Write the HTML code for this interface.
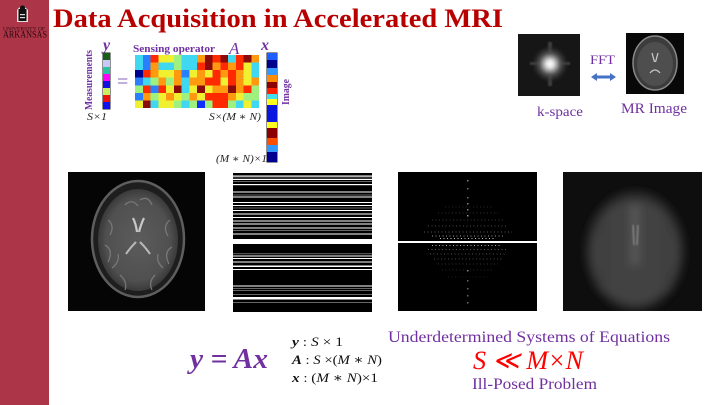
<!DOCTYPE html>
<html><head><meta charset="utf-8"><style>
html,body{margin:0;padding:0;background:#fff;}
svg{display:block;}
text{font-family:"Liberation Serif","DejaVu Serif",serif;}
</style></head><body>
<svg width="720" height="405" viewBox="0 0 720 405" xmlns="http://www.w3.org/2000/svg">
<defs>
<filter id="bl4" x="-30%" y="-30%" width="160%" height="160%"><feGaussianBlur stdDeviation="4"/></filter>
<filter id="bl1" x="-30%" y="-30%" width="160%" height="160%"><feGaussianBlur stdDeviation="0.8"/></filter>
<clipPath id="c4"><rect x="563" y="172" width="139" height="139"/></clipPath>
<clipPath id="ck"><rect x="518" y="34" width="62" height="62"/></clipPath>
<radialGradient id="kglow" cx="0.5" cy="0.5" r="0.5">
<stop offset="0" stop-color="#fff"/><stop offset="0.2" stop-color="#ddd"/><stop offset="0.55" stop-color="#555"/><stop offset="1" stop-color="#222" stop-opacity="0"/>
</radialGradient>
<radialGradient id="brainG" cx="0.5" cy="0.5" r="0.5">
<stop offset="0" stop-color="#5c5c5c"/><stop offset="0.8" stop-color="#505050"/><stop offset="1" stop-color="#3a3a3a"/>
</radialGradient>
</defs>
<rect width="720" height="405" fill="#fff"/>
<!-- sidebar -->
<rect x="0" y="0" width="49" height="405" fill="#ad3548"/>
<!-- logo -->
<g>
<path d="M17 22 L17 10 Q22 3 28 10 L28 22 Z" fill="#e8e0e0"/>
<rect x="18.5" y="9" width="8" height="12" fill="#111"/>
<circle cx="22.5" cy="8" r="2.6" fill="#111"/>
<rect x="20" y="14" width="5" height="1.2" fill="#ddd"/>
<rect x="20" y="17" width="5" height="1.2" fill="#ddd"/>
<text x="3" y="30.5" font-size="5" fill="#3a0a12" textLength="42" lengthAdjust="spacingAndGlyphs">UNIVERSITY OF</text>
<text x="3" y="37.5" font-size="9" fill="#2a080e" textLength="44" lengthAdjust="spacingAndGlyphs">ARKANSAS</text>
</g>
<!-- title -->
<text x="53" y="27" font-size="26" font-weight="bold" fill="#b80000" textLength="450" lengthAdjust="spacingAndGlyphs">Data Acquisition in Accelerated MRI</text>

<!-- matrix figure -->
<text x="103" y="50" font-size="16" font-weight="bold" font-style="italic" fill="#7030a0">y</text>
<text transform="translate(92,110) rotate(-90)" font-size="10" font-weight="bold" fill="#7030a0" textLength="60" lengthAdjust="spacingAndGlyphs">Measurements</text>
<g>
<rect x="102.5" y="52.5" width="8" height="57" fill="#222"/>
<rect x="103" y="53" width="7" height="7" fill="#1a5c1a"/>
<rect x="103" y="60" width="7" height="7" fill="#c8c8f8"/>
<rect x="103" y="67" width="7" height="7" fill="#2cbfa0"/>
<rect x="103" y="74" width="7" height="7" fill="#ff00ff"/>
<rect x="103" y="81" width="7" height="7" fill="#1010e0"/>
<rect x="103" y="88" width="7" height="7" fill="#c8f060"/>
<rect x="103" y="95" width="7" height="7" fill="#ee1010"/>
<rect x="103" y="102" width="7" height="7" fill="#1010f0"/>
</g>
<text x="87" y="120" font-size="10" font-style="italic" fill="#222" textLength="20" lengthAdjust="spacingAndGlyphs">S×1</text>
<text x="117" y="88" font-size="20" fill="#8060b8">=</text>
<text x="133" y="52" font-size="11" font-weight="bold" fill="#7030a0" textLength="82" lengthAdjust="spacingAndGlyphs">Sensing operator</text>
<text x="229" y="54" font-size="17" font-style="italic" fill="#7030a0">A</text>
<text x="261" y="50" font-size="16" font-weight="bold" font-style="italic" fill="#7030a0">x</text>
<g>
<rect x="266.5" y="52.5" width="11" height="110" fill="#222"/>
<rect x="267" y="53" width="10" height="7" fill="#1f5fff"/>
<rect x="267" y="60" width="10" height="8" fill="#00008b"/>
<rect x="267" y="68" width="10" height="7" fill="#3399ff"/>
<rect x="267" y="75" width="10" height="7" fill="#ff8c00"/>
<rect x="267" y="82" width="10" height="6" fill="#8b0000"/>
<rect x="267" y="88" width="10" height="6" fill="#ff2000"/>
<rect x="267" y="94" width="10" height="5" fill="#40e0f0"/>
<rect x="267" y="99" width="10" height="6" fill="#ffff20"/>
<rect x="267" y="105" width="10" height="17" fill="#0818e0"/>
<rect x="267" y="122" width="10" height="6" fill="#ffff20"/>
<rect x="267" y="128" width="10" height="10" fill="#8b0000"/>
<rect x="267" y="138" width="10" height="7" fill="#ff5000"/>
<rect x="267" y="145" width="10" height="7" fill="#3399ff"/>
<rect x="267" y="152" width="10" height="10" fill="#000090"/>
</g>
<text transform="translate(289,105) rotate(-90)" font-size="10" font-weight="bold" fill="#7030a0" textLength="26" lengthAdjust="spacingAndGlyphs">Image</text>
<text x="209" y="120" font-size="10" font-style="italic" fill="#222" textLength="52" lengthAdjust="spacingAndGlyphs">S×(M ∗ N)</text>
<text x="216" y="162" font-size="10" font-style="italic" fill="#222" textLength="51" lengthAdjust="spacingAndGlyphs">(M ∗ N)×1</text>

<!-- top right -->
<rect x="518" y="34" width="62" height="62" fill="#161616"/>
<g clip-path="url(#ck)">
<g filter="url(#bl1)" fill="#666" opacity="0.5">
<rect x="530" y="62" width="40" height="3"/><rect x="548" y="42" width="4" height="44"/>
</g>
<circle cx="550" cy="64" r="19" fill="url(#kglow)"/>
</g>
<rect x="626" y="33" width="58" height="61" fill="#080808"/>
<ellipse cx="655" cy="63" rx="22" ry="27" fill="#3c3c3c" stroke="#888" stroke-width="1.5"/>
<ellipse cx="655" cy="64" rx="18" ry="22" fill="#4e4e4e"/>
<path d="M652 53 L654.5 62 M658 53 L655.5 62 M650 73 Q655 67 660 73" stroke="#c8c8c8" stroke-width="1.3" fill="none"/>
<text x="590" y="64" font-size="13" fill="#7030a0" textLength="25" lengthAdjust="spacingAndGlyphs">FFT</text>
<path d="M591 77 L597 73 L597 75.5 L610 75.5 L610 73 L616 77 L610 81 L610 78.5 L597 78.5 L597 81 Z" fill="#4472c4"/>
<text x="537" y="116" font-size="14" fill="#7030a0" textLength="46" lengthAdjust="spacingAndGlyphs">k-space</text>
<text x="621" y="113" font-size="15" fill="#7030a0" textLength="66" lengthAdjust="spacingAndGlyphs">MR Image</text>

<!-- image 1 brain -->
<rect x="68" y="172" width="137" height="139" fill="#050505"/>
<ellipse cx="138" cy="239" rx="46" ry="58" fill="#1e1e1e" stroke="#5e5e5e" stroke-width="2.5"/>
<ellipse cx="138" cy="240" rx="40" ry="51" fill="url(#brainG)"/>
<g stroke="#7c7c7c" stroke-width="1.3" fill="none" opacity="0.9">
<path d="M108 220 Q115 225 110 235 M105 245 Q114 250 108 262 M170 220 Q162 226 168 236 M172 247 Q163 252 169 264 M120 275 Q128 282 125 290 M155 275 Q148 282 152 290 M125 205 Q132 198 138 206 M140 200 Q148 195 152 205 M112 268 Q120 262 118 254 M163 268 Q156 262 158 254"/>
</g>
<path d="M133 218 Q136 224 137 232 M144 218 Q141 224 139 232" stroke="#c8c8c8" stroke-width="2.2" fill="none"/>
<path d="M136 242 Q130 248 126 254 M140 242 Q146 248 150 254" stroke="#b8b8b8" stroke-width="2" fill="none"/>

<!-- image 2 stripes -->
<rect x="233" y="173" width="139" height="139" fill="#000"/>
<g fill="#fff">
<rect x="233" y="175.5" width="139" height="1.2"/><rect x="233" y="179" width="139" height="1"/>
<rect x="233" y="184" width="139" height="1.2"/><rect x="233" y="191.5" width="139" height="1"/>
<rect x="233" y="196.5" width="139" height="1"/><rect x="233" y="202" width="139" height="1"/>
<rect x="233" y="205" width="139" height="1"/><rect x="233" y="210" width="139" height="1"/>
<rect x="233" y="213.5" width="139" height="1"/><rect x="233" y="217" width="139" height="1"/>
<rect x="233" y="220.5" width="139" height="1"/><rect x="233" y="223.5" width="139" height="1"/>
<rect x="233" y="227.5" width="139" height="1"/><rect x="233" y="233.5" width="139" height="1"/>
<rect x="233" y="239" width="139" height="5"/>
<rect x="233" y="255.5" width="139" height="1"/><rect x="233" y="258" width="139" height="1"/>
<rect x="233" y="261.5" width="139" height="1"/><rect x="233" y="265.5" width="139" height="1.5"/>
<rect x="233" y="269" width="139" height="1"/><rect x="233" y="285.5" width="139" height="1"/>
<rect x="233" y="297" width="139" height="2.5"/>
</g>
<g fill="#666">
<rect x="233" y="177.5" width="139" height="1"/><rect x="233" y="181" width="139" height="1"/>
<rect x="233" y="194.5" width="139" height="1"/><rect x="233" y="207.5" width="139" height="1"/>
<rect x="233" y="230" width="139" height="1"/><rect x="233" y="253.2" width="139" height="1"/>
<rect x="233" y="288" width="139" height="1"/><rect x="233" y="290" width="139" height="1"/>
<rect x="233" y="294" width="139" height="1"/><rect x="233" y="302" width="139" height="1"/>
</g>

<!-- image 3 kspace undersampled -->
<rect x="398" y="172" width="139" height="139" fill="#000"/>
<g fill="#fff">
<rect x="467" y="180" width="1.5" height="1.5" opacity="0.5"/><rect x="467" y="188" width="1.5" height="1.5" opacity="0.4"/>
<rect x="467" y="197" width="1.5" height="1.5" opacity="0.4"/><rect x="467" y="203" width="1.5" height="1.5" opacity="0.5"/>
<rect x="467" y="209" width="1.5" height="1.5" opacity="0.5"/><rect x="467" y="215" width="1.5" height="1.5" opacity="0.6"/>
<rect x="467" y="270" width="1.5" height="1.5" opacity="0.5"/><rect x="467" y="280" width="1.5" height="1.5" opacity="0.4"/>
<rect x="467" y="288" width="1.5" height="1.5" opacity="0.4"/><rect x="467" y="295" width="1.5" height="1.5" opacity="0.4"/>
<rect x="467" y="302" width="1.5" height="1.5" opacity="0.4"/>
<rect x="398" y="241" width="139" height="2"/>
</g>
<g stroke="#fff" stroke-width="1" stroke-dasharray="1 2.5" fill="none">
<path d="M445 207 H492" opacity="0.15"/><path d="M438 213 H498" opacity="0.2"/>
<path d="M432 220 H504" opacity="0.22"/><path d="M428 226 H508" opacity="0.3"/>
<path d="M424 232 H512" opacity="0.35"/><path d="M432 236 H504" opacity="0.6"/>
<path d="M440 238.5 H496" opacity="0.75"/>
<path d="M432 245.5 H502" opacity="0.65"/><path d="M428 249.5 H506" opacity="0.35"/>
<path d="M430 254 H506" opacity="0.3"/><path d="M434 259 H502" opacity="0.28"/>
<path d="M438 264 H498" opacity="0.2"/><path d="M442 270 H494" opacity="0.15"/>
<path d="M448 277 H488" opacity="0.1"/>
</g>

<!-- image 4 blurred recon -->
<rect x="563" y="172" width="139" height="139" fill="#0e0e0e"/>
<g clip-path="url(#c4)">
<g filter="url(#bl4)">
<ellipse cx="635" cy="251" rx="50" ry="60" fill="#2c2c2c"/>
<ellipse cx="635" cy="252" rx="43" ry="52" fill="#424242"/>
<rect x="630" y="205" width="10" height="60" fill="#555"/>
<rect x="600" y="220" width="8" height="70" fill="#3c3c3c"/>
<rect x="662" y="220" width="8" height="70" fill="#3c3c3c"/>
</g>
<path d="M633 225 L634 245 M638 225 L637 245" stroke="#888" stroke-width="1.4" filter="url(#bl1)"/>
</g>

<!-- bottom equations -->
<text x="190" y="368" font-size="28" font-weight="bold" font-style="italic" fill="#7030a0" textLength="78" lengthAdjust="spacingAndGlyphs">y = Ax</text>
<text x="292" y="346" font-size="13" fill="#111" textLength="51" lengthAdjust="spacingAndGlyphs"><tspan font-weight="bold" font-style="italic">y</tspan> : <tspan font-style="italic">S</tspan> × 1</text>
<text x="292" y="364" font-size="13" fill="#111" textLength="90" lengthAdjust="spacingAndGlyphs"><tspan font-weight="bold" font-style="italic">A</tspan> : <tspan font-style="italic">S</tspan> ×(<tspan font-style="italic">M</tspan> ∗ <tspan font-style="italic">N</tspan>)</text>
<text x="292" y="382" font-size="13" fill="#111" textLength="86" lengthAdjust="spacingAndGlyphs"><tspan font-weight="bold" font-style="italic">x</tspan> : (<tspan font-style="italic">M</tspan> ∗ <tspan font-style="italic">N</tspan>)×1</text>
<text x="388" y="342" font-size="16" fill="#7030a0" textLength="282" lengthAdjust="spacingAndGlyphs">Underdetermined Systems of  Equations</text>
<text x="473" y="369" font-size="26" font-style="italic" fill="#ff0000" textLength="110" lengthAdjust="spacingAndGlyphs">S ≪ M×N</text>
<text x="472" y="389" font-size="16" fill="#7030a0" textLength="125" lengthAdjust="spacingAndGlyphs">Ill-Posed Problem</text>

<!-- matrix A cells -->
<g shape-rendering="crispEdges">
<rect x="135" y="55" width="7.75" height="7.57" fill="#40d8f0"/><rect x="142.75" y="55" width="7.75" height="7.57" fill="#2a7fff"/><rect x="150.5" y="55" width="7.75" height="7.57" fill="#ff2a00"/><rect x="158.25" y="55" width="7.75" height="7.57" fill="#f0f030"/><rect x="166" y="55" width="7.75" height="7.57" fill="#f0f030"/><rect x="173.75" y="55" width="7.75" height="7.57" fill="#a0f080"/><rect x="181.5" y="55" width="7.75" height="7.57" fill="#40d8f0"/><rect x="189.25" y="55" width="7.75" height="7.57" fill="#40d8f0"/><rect x="197" y="55" width="7.75" height="7.57" fill="#ff9a10"/><rect x="204.75" y="55" width="7.75" height="7.57" fill="#8b0a0a"/><rect x="212.5" y="55" width="7.75" height="7.57" fill="#ff2a00"/><rect x="220.25" y="55" width="7.75" height="7.57" fill="#8b0a0a"/><rect x="228" y="55" width="7.75" height="7.57" fill="#40d8f0"/><rect x="235.75" y="55" width="7.75" height="7.57" fill="#ff2a00"/><rect x="243.5" y="55" width="7.75" height="7.57" fill="#8b0a0a"/><rect x="251.25" y="55" width="7.75" height="7.57" fill="#ff9a10"/>
<rect x="135" y="62.57" width="7.75" height="7.57" fill="#40d8f0"/><rect x="142.75" y="62.57" width="7.75" height="7.57" fill="#2a7fff"/><rect x="150.5" y="62.57" width="7.75" height="7.57" fill="#ff9a10"/><rect x="158.25" y="62.57" width="7.75" height="7.57" fill="#40d8f0"/><rect x="166" y="62.57" width="7.75" height="7.57" fill="#40d8f0"/><rect x="173.75" y="62.57" width="7.75" height="7.57" fill="#a0f080"/><rect x="181.5" y="62.57" width="7.75" height="7.57" fill="#40d8f0"/><rect x="189.25" y="62.57" width="7.75" height="7.57" fill="#40d8f0"/><rect x="197" y="62.57" width="7.75" height="7.57" fill="#ff2a00"/><rect x="204.75" y="62.57" width="7.75" height="7.57" fill="#8b0a0a"/><rect x="212.5" y="62.57" width="7.75" height="7.57" fill="#ff9a10"/><rect x="220.25" y="62.57" width="7.75" height="7.57" fill="#ff2a00"/><rect x="228" y="62.57" width="7.75" height="7.57" fill="#ff9a10"/><rect x="235.75" y="62.57" width="7.75" height="7.57" fill="#ff2a00"/><rect x="243.5" y="62.57" width="7.75" height="7.57" fill="#f0f030"/><rect x="251.25" y="62.57" width="7.75" height="7.57" fill="#40d8f0"/>
<rect x="135" y="70.14" width="7.75" height="7.57" fill="#00008f"/><rect x="142.75" y="70.14" width="7.75" height="7.57" fill="#ff2a00"/><rect x="150.5" y="70.14" width="7.75" height="7.57" fill="#ff9a10"/><rect x="158.25" y="70.14" width="7.75" height="7.57" fill="#f0f030"/><rect x="166" y="70.14" width="7.75" height="7.57" fill="#f0f030"/><rect x="173.75" y="70.14" width="7.75" height="7.57" fill="#ff9a10"/><rect x="181.5" y="70.14" width="7.75" height="7.57" fill="#2a7fff"/><rect x="189.25" y="70.14" width="7.75" height="7.57" fill="#f0f030"/><rect x="197" y="70.14" width="7.75" height="7.57" fill="#ff9a10"/><rect x="204.75" y="70.14" width="7.75" height="7.57" fill="#f0f030"/><rect x="212.5" y="70.14" width="7.75" height="7.57" fill="#ff2a00"/><rect x="220.25" y="70.14" width="7.75" height="7.57" fill="#ff9a10"/><rect x="228" y="70.14" width="7.75" height="7.57" fill="#ff2a00"/><rect x="235.75" y="70.14" width="7.75" height="7.57" fill="#ff9a10"/><rect x="243.5" y="70.14" width="7.75" height="7.57" fill="#f0f030"/><rect x="251.25" y="70.14" width="7.75" height="7.57" fill="#40d8f0"/>
<rect x="135" y="77.71" width="7.75" height="7.57" fill="#2a7fff"/><rect x="142.75" y="77.71" width="7.75" height="7.57" fill="#40d8f0"/><rect x="150.5" y="77.71" width="7.75" height="7.57" fill="#a0f080"/><rect x="158.25" y="77.71" width="7.75" height="7.57" fill="#ff9a10"/><rect x="166" y="77.71" width="7.75" height="7.57" fill="#a0f080"/><rect x="173.75" y="77.71" width="7.75" height="7.57" fill="#ff9a10"/><rect x="181.5" y="77.71" width="7.75" height="7.57" fill="#40d8f0"/><rect x="189.25" y="77.71" width="7.75" height="7.57" fill="#ff9a10"/><rect x="197" y="77.71" width="7.75" height="7.57" fill="#ff9a10"/><rect x="204.75" y="77.71" width="7.75" height="7.57" fill="#ff2a00"/><rect x="212.5" y="77.71" width="7.75" height="7.57" fill="#ff2a00"/><rect x="220.25" y="77.71" width="7.75" height="7.57" fill="#f0f030"/><rect x="228" y="77.71" width="7.75" height="7.57" fill="#ff2a00"/><rect x="235.75" y="77.71" width="7.75" height="7.57" fill="#ff9a10"/><rect x="243.5" y="77.71" width="7.75" height="7.57" fill="#f0f030"/><rect x="251.25" y="77.71" width="7.75" height="7.57" fill="#ff9a10"/>
<rect x="135" y="85.28" width="7.75" height="7.57" fill="#a0f080"/><rect x="142.75" y="85.28" width="7.75" height="7.57" fill="#ff2a00"/><rect x="150.5" y="85.28" width="7.75" height="7.57" fill="#2a7fff"/><rect x="158.25" y="85.28" width="7.75" height="7.57" fill="#ff2a00"/><rect x="166" y="85.28" width="7.75" height="7.57" fill="#f0f030"/><rect x="173.75" y="85.28" width="7.75" height="7.57" fill="#8b0a0a"/><rect x="181.5" y="85.28" width="7.75" height="7.57" fill="#40d8f0"/><rect x="189.25" y="85.28" width="7.75" height="7.57" fill="#f0f030"/><rect x="197" y="85.28" width="7.75" height="7.57" fill="#8b0a0a"/><rect x="204.75" y="85.28" width="7.75" height="7.57" fill="#f0f030"/><rect x="212.5" y="85.28" width="7.75" height="7.57" fill="#ff9a10"/><rect x="220.25" y="85.28" width="7.75" height="7.57" fill="#ff9a10"/><rect x="228" y="85.28" width="7.75" height="7.57" fill="#8b0a0a"/><rect x="235.75" y="85.28" width="7.75" height="7.57" fill="#ff9a10"/><rect x="243.5" y="85.28" width="7.75" height="7.57" fill="#ff2a00"/><rect x="251.25" y="85.28" width="7.75" height="7.57" fill="#a0f080"/>
<rect x="135" y="92.85" width="7.75" height="7.57" fill="#2a7fff"/><rect x="142.75" y="92.85" width="7.75" height="7.57" fill="#ff9a10"/><rect x="150.5" y="92.85" width="7.75" height="7.57" fill="#a0f080"/><rect x="158.25" y="92.85" width="7.75" height="7.57" fill="#f0f030"/><rect x="166" y="92.85" width="7.75" height="7.57" fill="#ff9a10"/><rect x="173.75" y="92.85" width="7.75" height="7.57" fill="#f0f030"/><rect x="181.5" y="92.85" width="7.75" height="7.57" fill="#a0f080"/><rect x="189.25" y="92.85" width="7.75" height="7.57" fill="#ff9a10"/><rect x="197" y="92.85" width="7.75" height="7.57" fill="#f0f030"/><rect x="204.75" y="92.85" width="7.75" height="7.57" fill="#ff2a00"/><rect x="212.5" y="92.85" width="7.75" height="7.57" fill="#ff2a00"/><rect x="220.25" y="92.85" width="7.75" height="7.57" fill="#ff2a00"/><rect x="228" y="92.85" width="7.75" height="7.57" fill="#ff9a10"/><rect x="235.75" y="92.85" width="7.75" height="7.57" fill="#f0f030"/><rect x="243.5" y="92.85" width="7.75" height="7.57" fill="#a0f080"/><rect x="251.25" y="92.85" width="7.75" height="7.57" fill="#a0f080"/>
<rect x="135" y="100.42" width="7.75" height="7.58" fill="#f0f030"/><rect x="142.75" y="100.42" width="7.75" height="7.58" fill="#8b0a0a"/><rect x="150.5" y="100.42" width="7.75" height="7.58" fill="#40d8f0"/><rect x="158.25" y="100.42" width="7.75" height="7.58" fill="#f0f030"/><rect x="166" y="100.42" width="7.75" height="7.58" fill="#f0f030"/><rect x="173.75" y="100.42" width="7.75" height="7.58" fill="#a0f080"/><rect x="181.5" y="100.42" width="7.75" height="7.58" fill="#40d8f0"/><rect x="189.25" y="100.42" width="7.75" height="7.58" fill="#a0f080"/><rect x="197" y="100.42" width="7.75" height="7.58" fill="#1030ff"/><rect x="204.75" y="100.42" width="7.75" height="7.58" fill="#a0f080"/><rect x="212.5" y="100.42" width="7.75" height="7.58" fill="#ff2a00"/><rect x="220.25" y="100.42" width="7.75" height="7.58" fill="#ff2a00"/><rect x="228" y="100.42" width="7.75" height="7.58" fill="#a0f080"/><rect x="235.75" y="100.42" width="7.75" height="7.58" fill="#40d8f0"/><rect x="243.5" y="100.42" width="7.75" height="7.58" fill="#f0f030"/><rect x="251.25" y="100.42" width="7.75" height="7.58" fill="#40d8f0"/>
</g>
</svg>
</body></html>
